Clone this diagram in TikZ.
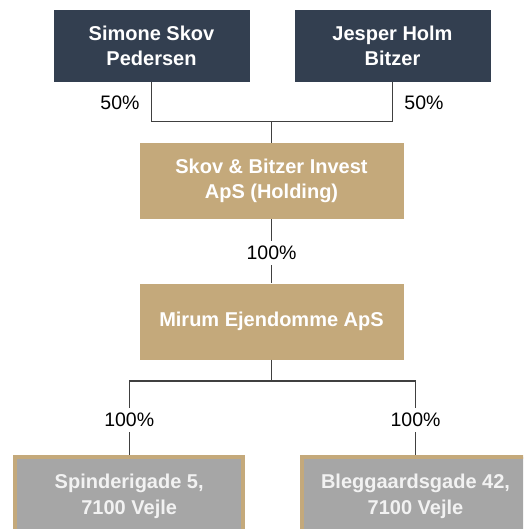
\documentclass[tikz,border=0pt]{standalone}
\usepackage{fontspec}
\setmainfont{Liberation Sans}
\definecolor{navy}{HTML}{333F50}
\definecolor{tan}{HTML}{C4A97B}
\definecolor{boxgray}{HTML}{A6A6A6}
\definecolor{linegray}{HTML}{404040}
\begin{document}
\begin{tikzpicture}[x=1pt,y=-1pt,
  person/.style={rectangle, fill=navy, draw=none, text=white, align=center,
    font=\fontsize{20}{24.5}\selectfont\bfseries, minimum width=196, minimum height=72, inner sep=0pt},
  company/.style={rectangle, fill=tan, draw=none, text=white, align=center,
    font=\fontsize{20}{25}\selectfont\bfseries, minimum width=264, minimum height=76, inner sep=0pt},
  property/.style={rectangle, fill=boxgray, draw=tan, line width=4pt, text=white!95!black, align=center,
    font=\fontsize{20}{26}\selectfont\bfseries, minimum width=228, minimum height=78, inner sep=0pt},
  conn/.style={draw=linegray, line width=1.4pt},
  pct/.style={font=\fontsize{19.5}{22}\selectfont, text=black, inner xsep=1pt, inner ysep=5pt}]
\useasboundingbox (0,0) rectangle (523,529);
\clip (0,0) rectangle (523,529);
\fill[white] (0,0) rectangle (523,529);
% nodes
\node[person] (sim) at (151.5,46) {Simone Skov\\Pedersen};
\node[person] (jes) at (392.5,46) {Jesper Holm\\Bitzer};
\node[company] (hold) at (271.5,181) {Skov \& Bitzer Invest\\ApS (Holding)};
\node[company] (mir) at (271.5,321.5) {Mirum Ejendomme ApS};
\node[property] (sp) at (129.2,496) {Spinderigade 5,\\7100 Vejle};
\node[property] (bl) at (415.5,496) {Bleggaardsgade 42,\\7100 Vejle};
% junctions
\coordinate (j1) at (271.5,121.5);
\coordinate (j2) at (271.5,381);
% connectors
\draw[conn] (sim.south) |- (j1) -| (jes.south);
\draw[conn] (j1) -- (hold.north);
\draw[conn] (hold.south) -- (mir.north);
\draw[conn] (mir.south) -- (j2);
\draw[conn] (j2) -| (sp.north);
\draw[conn] (j2) -| (bl.north);
% labels
\node[pct] (p1) at (120,103) {50\%};
\node[pct] (p2) at (424,103) {50\%};
\node[pct, fill=white] (p3) at (271.5,253) {100\%};
\node[pct, fill=white] (p4) at (129.2,420) {100\%};
\node[pct, fill=white] (p5) at (415.5,420) {100\%};
\end{tikzpicture}
\end{document}
